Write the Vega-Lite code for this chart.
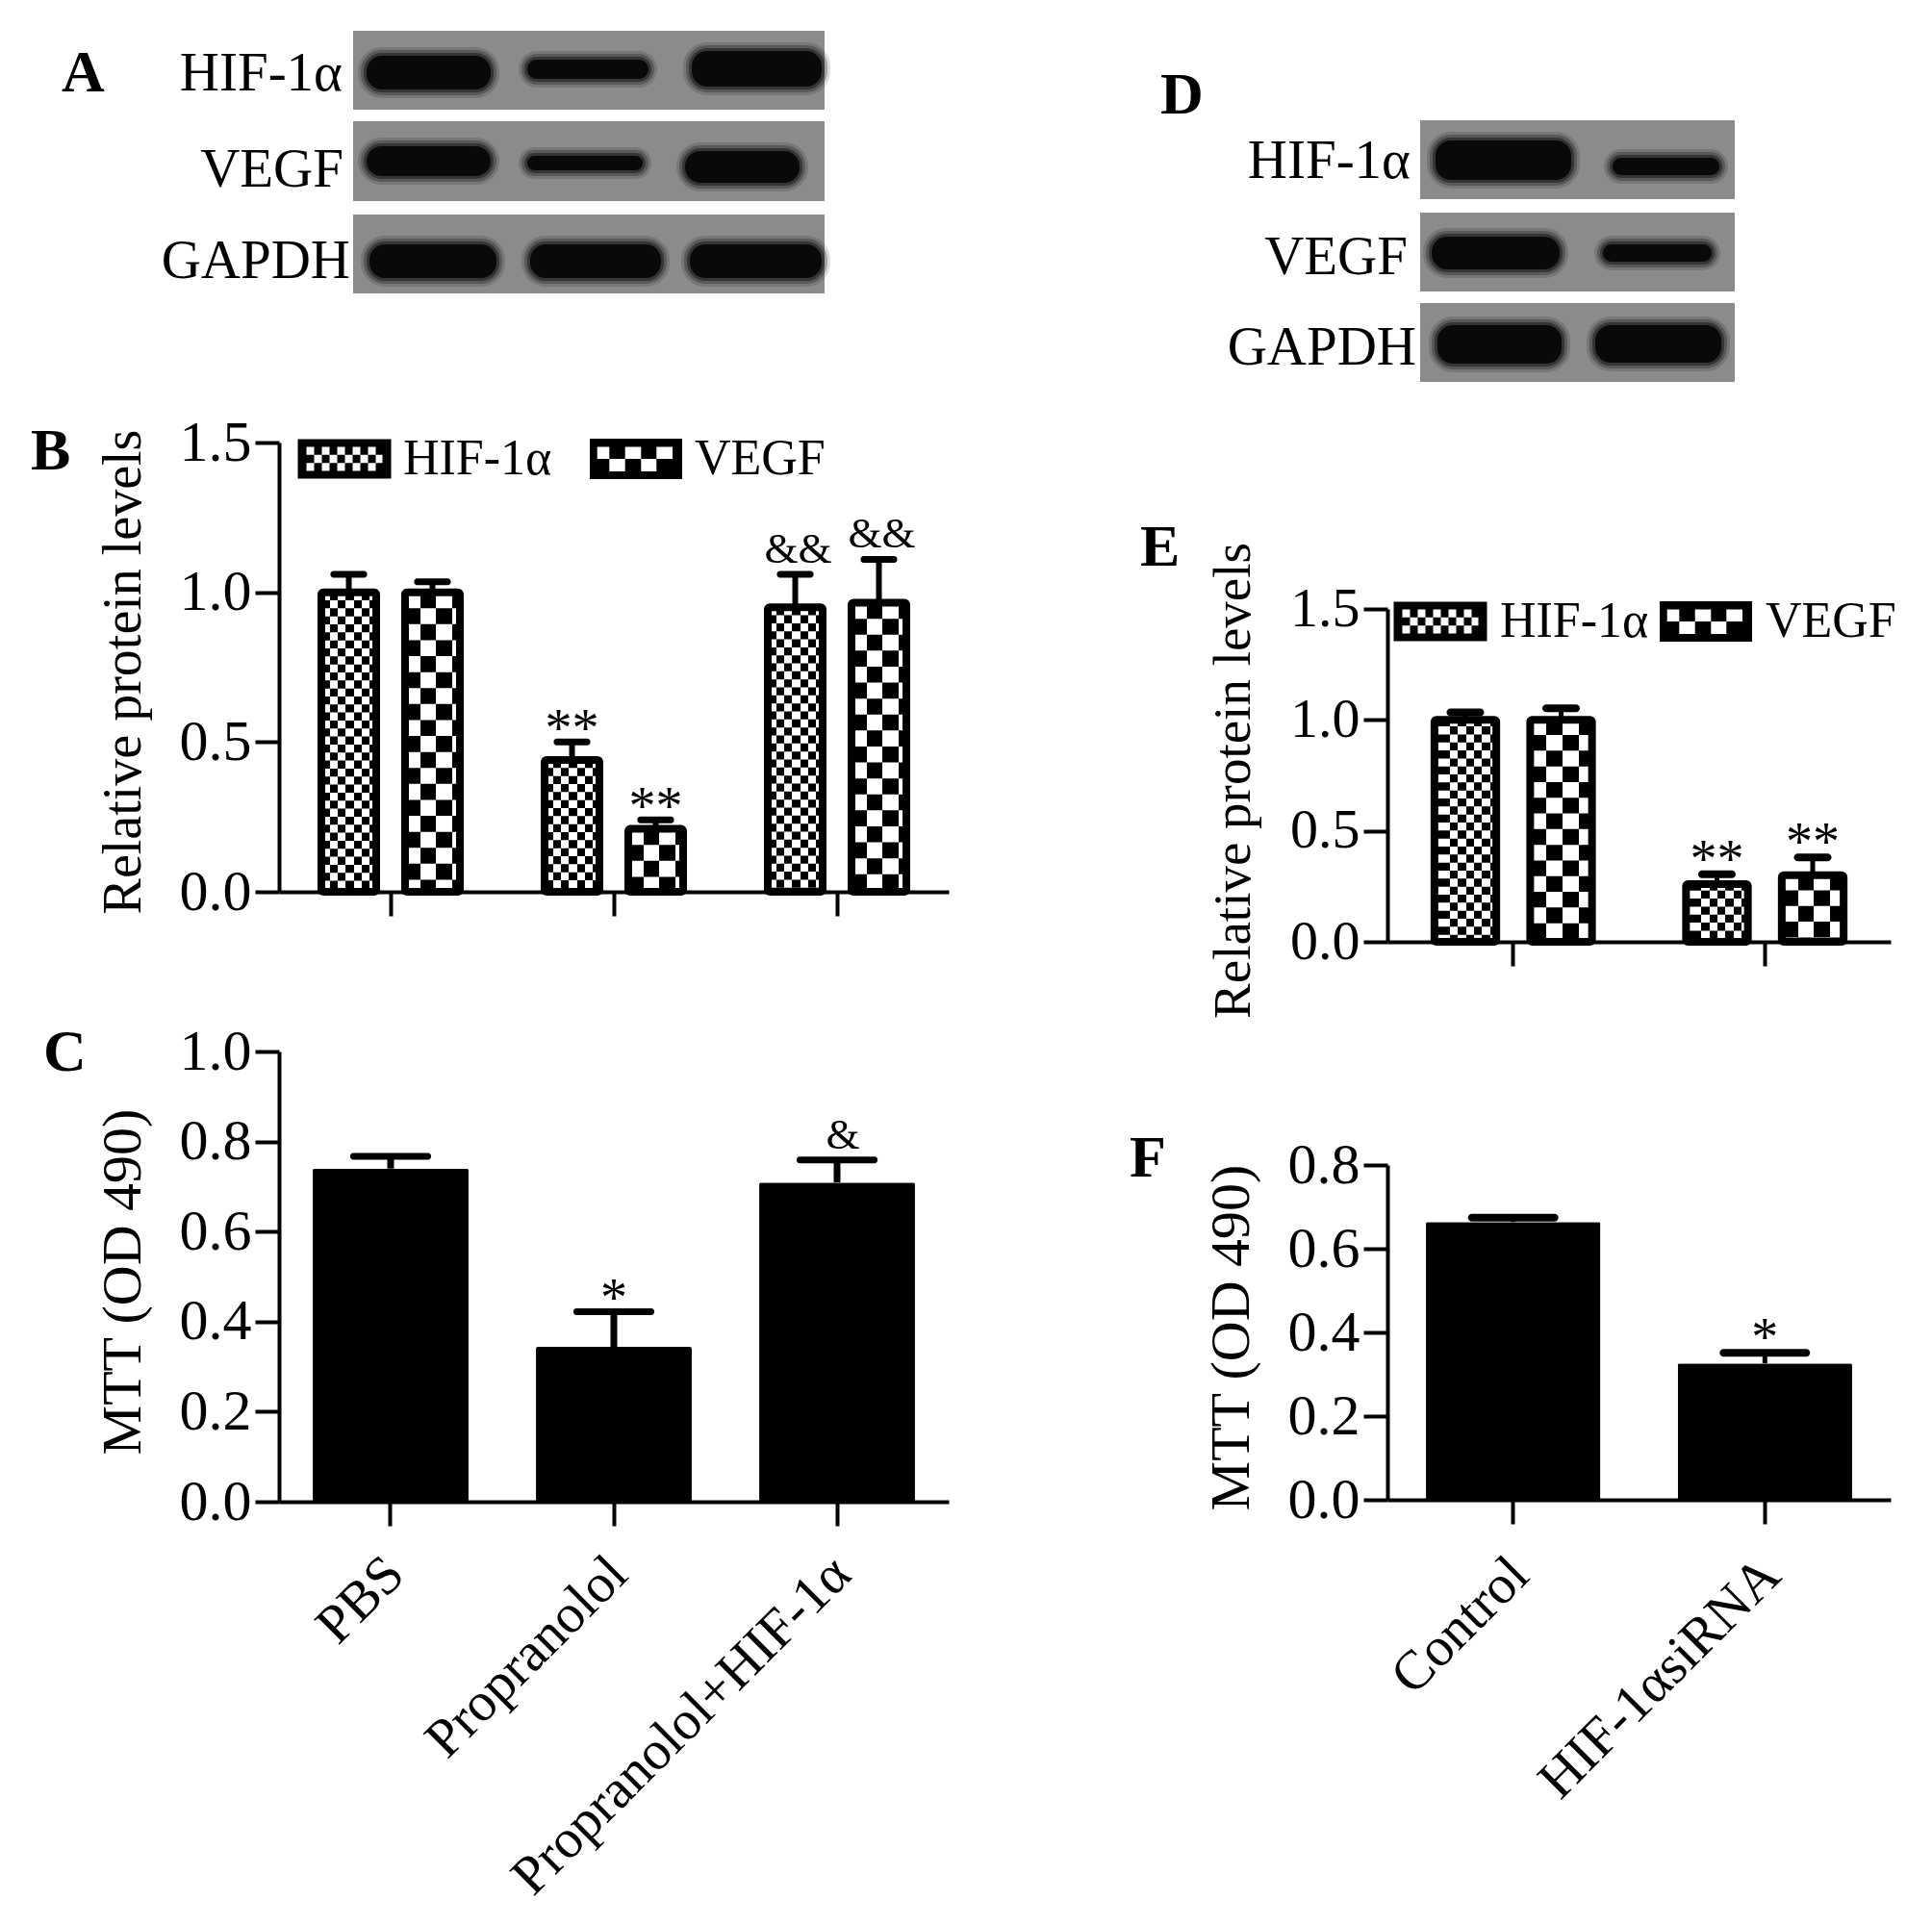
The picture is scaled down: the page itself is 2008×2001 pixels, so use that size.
{
"$schema":"https://vega.github.io/schema/vega-lite/v6.json",
"background":"white",
"autosize":{"type":"none"},
"padding":{"left":290,"top":32,"right":1718,"bottom":1969},
"bounds":"flush",
"spacing":1152,
"resolve":{"scale":{"shape":"independent","xOffset":"independent"},"legend":{"shape":"independent"}},
"config":{"view":{"stroke":null},"font":"Liberation Serif",
"axis":{"domainColor":"black","domainWidth":4,"tickColor":"black","tickWidth":4,"grid":false,"labelColor":"black","titleColor":"black","labelFont":"Liberation Serif","titleFont":"Liberation Serif","titleFontWeight":"normal","zindex":1,"labelOverlap":false,"labelBound":false,"labelFlush":false,"labelLimit":0,"titleBaseline":"middle","tickCap":"butt"},
"title":{"font":"Liberation Serif","fontWeight":"bold","fontSize":62,"color":"black","anchor":"start","frame":"group","baseline":"alphabetic","offset":0},
"legend":{"labelFont":"Liberation Serif","labelColor":"black","symbolStrokeWidth":0,"symbolOpacity":1,"symbolFillColor":"black","padding":0,"labelLimit":400}},
"datasets":{
"a_strip":[{"x0":0,"x1":490,"y0":0,"y1":82},{"x0":0,"x1":490,"y0":94,"y1":177},{"x0":0,"x1":490,"y0":191,"y1":273}],
"a_band":[{"x0":14,"x1":143,"y0":26,"y1":61},{"x0":181,"x1":307,"y0":30,"y1":50},{"x0":352,"x1":487,"y0":21,"y1":58},{"x0":14,"x1":143,"y0":120,"y1":151},{"x0":181,"x1":301,"y0":130,"y1":145},{"x0":345,"x1":464,"y0":125,"y1":158},{"x0":17,"x1":149,"y0":222,"y1":257},{"x0":184,"x1":320,"y0":222,"y1":257},{"x0":350,"x1":487,"y0":222,"y1":257}],
"a_label":[{"x0":-11,"y0":45,"label":"HIF-1α"},{"x0":-10,"y0":145,"label":"VEGF"},{"x0":-3,"y0":240,"label":"GAPDH"}],
"d_strip":[{"x0":0,"x1":327,"y0":0,"y1":82},{"x0":0,"x1":327,"y0":96,"y1":178},{"x0":0,"x1":327,"y0":190,"y1":272}],
"d_band":[{"x0":16,"x1":157,"y0":21,"y1":62},{"x0":200,"x1":311,"y0":39,"y1":57},{"x0":12,"x1":145,"y0":121,"y1":155},{"x0":190,"x1":303,"y0":129,"y1":147},{"x0":18,"x1":147,"y0":213,"y1":253},{"x0":182,"x1":313,"y0":213,"y1":252}],
"d_label":[{"x0":-10,"y0":43,"label":"HIF-1α"},{"x0":-13,"y0":143,"label":"VEGF"},{"x0":-4,"y0":237,"label":"GAPDH"}],
"b":[{"group":"PBS","series":"HIF-1α","value":1.0,"top":1.06,"sig":""},{"group":"PBS","series":"VEGF","value":1.0,"top":1.035,"sig":""},{"group":"Propranolol","series":"HIF-1α","value":0.44,"top":0.5,"sig":"**"},{"group":"Propranolol","series":"VEGF","value":0.21,"top":0.24,"sig":"**"},{"group":"Propranolol+HIF-1α","series":"HIF-1α","value":0.95,"top":1.06,"sig":"&&"},{"group":"Propranolol+HIF-1α","series":"VEGF","value":0.965,"top":1.11,"sig":"&&"}],
"c":[{"group":"PBS","value":0.74,"top":0.767,"sig":""},{"group":"Propranolol","value":0.344,"top":0.422,"sig":"*"},{"group":"Propranolol+HIF-1α","value":0.709,"top":0.759,"sig":"&"}],
"e":[{"group":"Control","series":"HIF-1α","value":1.0,"top":1.034,"sig":""},{"group":"Control","series":"VEGF","value":1.0,"top":1.052,"sig":""},{"group":"HIF-1αsiRNA","series":"HIF-1α","value":0.26,"top":0.305,"sig":"**"},{"group":"HIF-1αsiRNA","series":"VEGF","value":0.3,"top":0.38,"sig":"**"}],
"f":[{"group":"Control","value":0.664,"top":0.674,"sig":""},{"group":"HIF-1αsiRNA","value":0.326,"top":0.351,"sig":"*"}]
},
"hconcat":[
{"vconcat":[
{"width":696,"height":262,"title":{"text":"A","dx":-226,"dy":80},
"encoding":{"x":{"field":"x0","type":"quantitative","scale":{"domain":[-77,619],"nice":false,"zero":false},"axis":null},"y":{"field":"y0","type":"quantitative","scale":{"domain":[0,262],"nice":false,"zero":false,"reverse":true},"axis":null}},
"layer":[
{"data":{"name":"a_strip"},"mark":{"type":"rect","fill":"#8b8b8b"},"encoding":{"x2":{"field":"x1"},"y2":{"field":"y1"}}},
{"data":{"name":"a_band"},"mark":{"type":"rect","cornerRadius":16,"fill":null,"stroke":"black","strokeWidth":18,"strokeOpacity":0.14},"encoding":{"x2":{"field":"x1"},"y2":{"field":"y1"}}},
{"data":{"name":"a_band"},"mark":{"type":"rect","cornerRadius":16,"fill":null,"stroke":"black","strokeWidth":12,"strokeOpacity":0.25},"encoding":{"x2":{"field":"x1"},"y2":{"field":"y1"}}},
{"data":{"name":"a_band"},"mark":{"type":"rect","cornerRadius":16,"fill":null,"stroke":"black","strokeWidth":6,"strokeOpacity":0.4},"encoding":{"x2":{"field":"x1"},"y2":{"field":"y1"}}},
{"data":{"name":"a_band"},"mark":{"type":"rect","cornerRadius":16,"fill":"#090909"},"encoding":{"x2":{"field":"x1"},"y2":{"field":"y1"}}},
{"data":{"name":"a_label"},"mark":{"type":"text","align":"right","baseline":"middle","font":"Liberation Serif","fontSize":57,"color":"black"},"encoding":{"text":{"field":"label"}}}
]},
{"width":696,"height":467,"title":{"text":"B","dx":-258,"dy":75},"data":{"name":"b"},
"encoding":{
"x":{"field":"group","type":"nominal","sort":null,"scale":{"padding":0},"axis":{"title":null,"labels":false,"tickSize":25}},
"xOffset":{"field":"series","type":"nominal","sort":null,"scale":{"paddingInner":0.345,"paddingOuter":0.506}},
"y":{"field":"value","type":"quantitative","scale":{"domain":[0,1.5]},"axis":{"values":[0,0.5,1,1.5],"format":".1f","title":"Relative protein levels","titleFontSize":56,"labelFontSize":60,"tickSize":25,"labelPadding":4,"titleX":-162,"titleY":238}}
},
"layer":[
{"transform":[{"filter":"datum.series==='HIF-1α'"}],"mark":{"type":"bar","fill":{"gradient":"linear","x1":0,"y1":0,"x2":1,"y2":0,"stops":[{"offset":0,"color":"white"},{"offset":0.153,"color":"white"},{"offset":0.153,"color":"black"},{"offset":0.298,"color":"black"},{"offset":0.298,"color":"white"},{"offset":0.444,"color":"white"},{"offset":0.444,"color":"black"},{"offset":0.591,"color":"black"},{"offset":0.591,"color":"white"},{"offset":0.737,"color":"white"},{"offset":0.737,"color":"black"},{"offset":0.882,"color":"black"},{"offset":0.882,"color":"white"},{"offset":1,"color":"white"}]}},"encoding":{"y2":{"datum":0}}},
{"transform":[{"filter":"datum.series==='HIF-1α'"}],"mark":{"type":"rule","stroke":"white","strokeWidth":52,"strokeDash":[8.33,8.33],"strokeDashOffset":8.33,"blend":"difference"},"encoding":{"y2":{"datum":0}}},
{"transform":[{"filter":"datum.series==='VEGF'"}],"mark":{"type":"bar","fill":{"gradient":"linear","x1":0,"y1":0,"x2":1,"y2":0,"stops":[{"offset":0,"color":"white"},{"offset":0.281,"color":"white"},{"offset":0.281,"color":"black"},{"offset":0.567,"color":"black"},{"offset":0.567,"color":"white"},{"offset":0.86,"color":"white"},{"offset":0.86,"color":"black"},{"offset":1,"color":"black"}]}},"encoding":{"y2":{"datum":0}}},
{"transform":[{"filter":"datum.series==='VEGF'"}],"mark":{"type":"rule","stroke":"white","strokeWidth":52,"strokeDash":[16.6,16.6],"strokeDashOffset":16.6,"blend":"difference"},"encoding":{"y2":{"datum":0}}},
{"mark":{"type":"bar","fill":null,"stroke":"black","strokeWidth":8,"cornerRadius":2},"encoding":{"y2":{"datum":0}}},
{"mark":{"type":"rule","color":"black","strokeWidth":6},"encoding":{"y2":{"field":"top"}}},
{"mark":{"type":"tick","color":"black","size":38,"thickness":7,"cornerRadius":3,"opacity":1},"encoding":{"y":{"field":"top","type":"quantitative"}}},
{"transform":[{"filter":"datum.sig==='**'"}],"mark":{"type":"text","font":"Liberation Serif","fontSize":56,"baseline":"alphabetic","dy":5,"color":"black"},"encoding":{"y":{"field":"top","type":"quantitative"},"text":{"field":"sig"}}},
{"transform":[{"filter":"datum.sig==='&&'"}],"mark":{"type":"text","font":"Liberation Serif","fontSize":45,"baseline":"alphabetic","dy":-12,"dx":3,"color":"black"},"encoding":{"y":{"field":"top","type":"quantitative"},"text":{"field":"sig"}}},
{"mark":{"type":"point","filled":true,"size":0,"opacity":1,"color":"black"},"encoding":{"shape":{"field":"series","type":"nominal","sort":null,"scale":{"domain":["HIF-1α","VEGF"],"range":["M-48.5 -20.5h97v41h-97zM-39.5 -12.5v25h79v-25zM-31.5 -12.5h8v8.3h-8zM-15.5 -12.5h8v8.3h-8zM.5 -12.5h8v8.3h-8zM16.5 -12.5h8v8.3h-8zM32.5 -12.5h7v8.3h-7zM-39.5 -4.2h8v8.4h-8zM-23.5 -4.2h8v8.4h-8zM-7.5 -4.2h8v8.4h-8zM8.5 -4.2h8v8.4h-8zM24.5 -4.2h8v8.4h-8zM-31.5 4.2h8v8.3h-8zM-15.5 4.2h8v8.3h-8zM.5 4.2h8v8.3h-8zM16.5 4.2h8v8.3h-8zM32.5 4.2h7v8.3h-7z","M-48 -21h96v42h-96zM-40.3 -12.5v12.5h12.6v-12.5zM-11.3 -12.5v12.5h16.6v-12.5zM21.3 -12.5v12.5h16.7v-12.5zM-27.7 0v13h16.4v-13zM5.3 0v13h16v-13z"]},"legend":{"orient":"none","legendX":42,"legendY":-9,"title":null,"direction":"horizontal","columns":2,"symbolSize":4,"labelFontSize":52,"labelOffset":35,"columnPadding":39}}}}
]},
{"width":696,"height":468,"title":{"text":"C","dx":-245,"dy":67},"data":{"name":"c"},
"encoding":{
"x":{"field":"group","type":"nominal","sort":null,"scale":{"paddingInner":0.302,"paddingOuter":0.151},"axis":{"title":null,"labelAngle":-45,"labelAlign":"right","labelBaseline":"middle","labelFontSize":57,"tickSize":25,"labelPadding":41,"labelOffset":5}},
"y":{"field":"value","type":"quantitative","scale":{"domain":[0,1]},"axis":{"values":[0,0.2,0.4,0.6,0.8,1],"format":".1f","title":"MTT (OD 490)","titleFontSize":58,"labelFontSize":60,"tickSize":25,"labelPadding":4,"titleX":-162,"titleY":239}}
},
"layer":[
{"mark":{"type":"bar","color":"black","cornerRadius":2}},
{"mark":{"type":"rule","color":"black","strokeWidth":7},"encoding":{"y2":{"field":"top"}}},
{"mark":{"type":"tick","color":"black","size":84,"thickness":7,"cornerRadius":3,"opacity":1},"encoding":{"y":{"field":"top","type":"quantitative"}}},
{"transform":[{"filter":"datum.sig==='*'"}],"mark":{"type":"text","font":"Liberation Serif","fontSize":56,"baseline":"alphabetic","dy":4,"color":"black"},"encoding":{"y":{"field":"top","type":"quantitative"},"text":{"field":"sig"}}},
{"transform":[{"filter":"datum.sig==='&'"}],"mark":{"type":"text","font":"Liberation Serif","fontSize":45,"baseline":"alphabetic","dy":-12,"dx":6,"color":"black"},"encoding":{"y":{"field":"top","type":"quantitative"},"text":{"field":"sig"}}}
]}
],"spacing":166,"bounds":"flush","resolve":{"scale":{"shape":"independent","xOffset":"independent"},"legend":{"shape":"independent"}}},
{"vconcat":[
{"width":523,"height":369,"title":{"text":"D","dx":-236,"dy":103},
"encoding":{"x":{"field":"x0","type":"quantitative","scale":{"domain":[-34,489],"nice":false,"zero":false},"axis":null},"y":{"field":"y0","type":"quantitative","scale":{"domain":[-93,276],"nice":false,"zero":false,"reverse":true},"axis":null}},
"layer":[
{"data":{"name":"d_strip"},"mark":{"type":"rect","fill":"#8b8b8b"},"encoding":{"x2":{"field":"x1"},"y2":{"field":"y1"}}},
{"data":{"name":"d_band"},"mark":{"type":"rect","cornerRadius":16,"fill":null,"stroke":"black","strokeWidth":18,"strokeOpacity":0.14},"encoding":{"x2":{"field":"x1"},"y2":{"field":"y1"}}},
{"data":{"name":"d_band"},"mark":{"type":"rect","cornerRadius":16,"fill":null,"stroke":"black","strokeWidth":12,"strokeOpacity":0.25},"encoding":{"x2":{"field":"x1"},"y2":{"field":"y1"}}},
{"data":{"name":"d_band"},"mark":{"type":"rect","cornerRadius":16,"fill":null,"stroke":"black","strokeWidth":6,"strokeOpacity":0.4},"encoding":{"x2":{"field":"x1"},"y2":{"field":"y1"}}},
{"data":{"name":"d_band"},"mark":{"type":"rect","cornerRadius":16,"fill":"#090909"},"encoding":{"x2":{"field":"x1"},"y2":{"field":"y1"}}},
{"data":{"name":"d_label"},"mark":{"type":"text","align":"right","baseline":"middle","font":"Liberation Serif","fontSize":57,"color":"black"},"encoding":{"text":{"field":"label"}}}
]},
{"width":523,"height":346,"title":{"text":"E","dx":-257,"dy":41},"data":{"name":"e"},
"encoding":{
"x":{"field":"group","type":"nominal","sort":null,"scale":{"padding":0},"axis":{"title":null,"labels":false,"tickSize":25}},
"xOffset":{"field":"series","type":"nominal","sort":null,"scale":{"paddingInner":0.354,"paddingOuter":0.491}},
"y":{"field":"value","type":"quantitative","scale":{"domain":[0,1.5]},"axis":{"values":[0,0.5,1,1.5],"format":".1f","title":"Relative protein levels","titleFontSize":55,"labelFontSize":58,"tickSize":25,"labelPadding":4,"titleX":-161,"titleY":178}}
},
"layer":[
{"transform":[{"filter":"datum.series==='HIF-1α'"}],"mark":{"type":"bar","fill":{"gradient":"linear","x1":0,"y1":0,"x2":1,"y2":0,"stops":[{"offset":0,"color":"white"},{"offset":0.25,"color":"white"},{"offset":0.25,"color":"black"},{"offset":0.38,"color":"black"},{"offset":0.38,"color":"white"},{"offset":0.51,"color":"white"},{"offset":0.51,"color":"black"},{"offset":0.64,"color":"black"},{"offset":0.64,"color":"white"},{"offset":0.77,"color":"white"},{"offset":0.77,"color":"black"},{"offset":0.9,"color":"black"},{"offset":0.9,"color":"white"},{"offset":1,"color":"white"}]}},"encoding":{"y2":{"datum":0}}},
{"transform":[{"filter":"datum.series==='HIF-1α'"}],"mark":{"type":"rule","stroke":"white","strokeWidth":58,"strokeDash":[8.33,8.33],"strokeDashOffset":1.6,"blend":"difference"},"encoding":{"y2":{"datum":0}}},
{"transform":[{"filter":"datum.series==='VEGF'"}],"mark":{"type":"bar","fill":{"gradient":"linear","x1":0,"y1":0,"x2":1,"y2":0,"stops":[{"offset":0,"color":"white"},{"offset":0.26,"color":"white"},{"offset":0.26,"color":"black"},{"offset":0.52,"color":"black"},{"offset":0.52,"color":"white"},{"offset":0.78,"color":"white"},{"offset":0.78,"color":"black"},{"offset":1,"color":"black"}]}},"encoding":{"y2":{"datum":0}}},
{"transform":[{"filter":"datum.series==='VEGF'"}],"mark":{"type":"rule","stroke":"white","strokeWidth":58,"strokeDash":[16.3,16.3],"strokeDashOffset":16.9,"blend":"difference"},"encoding":{"y2":{"datum":0}}},
{"mark":{"type":"bar","fill":null,"stroke":"black","strokeWidth":8,"cornerRadius":2},"encoding":{"y2":{"datum":0}}},
{"mark":{"type":"rule","color":"black","strokeWidth":5},"encoding":{"y2":{"field":"top"}}},
{"mark":{"type":"tick","color":"black","size":39,"thickness":8,"cornerRadius":4,"opacity":1},"encoding":{"y":{"field":"top","type":"quantitative"}}},
{"transform":[{"filter":"datum.sig==='**'"}],"mark":{"type":"text","font":"Liberation Serif","fontSize":56,"baseline":"alphabetic","dy":3,"color":"black"},"encoding":{"y":{"field":"top","type":"quantitative"},"text":{"field":"sig"}}},
{"mark":{"type":"point","filled":true,"size":0,"opacity":1,"color":"black"},"encoding":{"shape":{"field":"series","type":"nominal","sort":null,"scale":{"domain":["HIF-1α","VEGF"],"range":["M-48.5 -20.5h97v41h-97zM-39.5 -12.5v25h79v-25zM-31.5 -12.5h8v8.3h-8zM-15.5 -12.5h8v8.3h-8zM.5 -12.5h8v8.3h-8zM16.5 -12.5h8v8.3h-8zM32.5 -12.5h7v8.3h-7zM-39.5 -4.2h8v8.4h-8zM-23.5 -4.2h8v8.4h-8zM-7.5 -4.2h8v8.4h-8zM8.5 -4.2h8v8.4h-8zM24.5 -4.2h8v8.4h-8zM-31.5 4.2h8v8.3h-8zM-15.5 4.2h8v8.3h-8zM.5 4.2h8v8.3h-8zM16.5 4.2h8v8.3h-8zM32.5 4.2h7v8.3h-7z","M-48 -21h96v42h-96zM-40.3 -12.5v12.5h12.6v-12.5zM-11.3 -12.5v12.5h16.6v-12.5zM21.3 -12.5v12.5h16.7v-12.5zM-27.7 0v13h16.4v-13zM5.3 0v13h16v-13z"]},"legend":{"orient":"none","legendX":29,"legendY":-13,"title":null,"direction":"horizontal","columns":2,"symbolSize":4,"labelFontSize":52,"labelOffset":36,"columnPadding":11}}}}
]},
{"width":523,"height":348,"title":{"text":"F","dx":-268,"dy":59},"data":{"name":"f"},
"encoding":{
"x":{"field":"group","type":"nominal","sort":null,"scale":{"paddingInner":0.307,"paddingOuter":0.153},"axis":{"title":null,"labelAngle":-45,"labelAlign":"right","labelBaseline":"middle","labelFontSize":57,"tickSize":25,"labelPadding":44,"labelOffset":7}},
"y":{"field":"value","type":"quantitative","scale":{"domain":[0,0.8]},"axis":{"values":[0,0.2,0.4,0.6,0.8],"format":".1f","title":"MTT (OD 490)","titleFontSize":58,"labelFontSize":60,"tickSize":25,"labelPadding":4,"titleX":-162,"titleY":179}}
},
"layer":[
{"mark":{"type":"bar","color":"black","cornerRadius":2}},
{"mark":{"type":"rule","color":"black","strokeWidth":5},"encoding":{"y2":{"field":"top"}}},
{"mark":{"type":"tick","color":"black","size":94,"thickness":8,"cornerRadius":4,"opacity":1},"encoding":{"y":{"field":"top","type":"quantitative"}}},
{"transform":[{"filter":"datum.sig==='*'"}],"mark":{"type":"text","font":"Liberation Serif","fontSize":56,"baseline":"alphabetic","dy":3,"color":"black"},"encoding":{"y":{"field":"top","type":"quantitative"},"text":{"field":"sig"}}}
]}
],"spacing":232,"bounds":"flush","resolve":{"scale":{"shape":"independent","xOffset":"independent"},"legend":{"shape":"independent"}}}
]
}
